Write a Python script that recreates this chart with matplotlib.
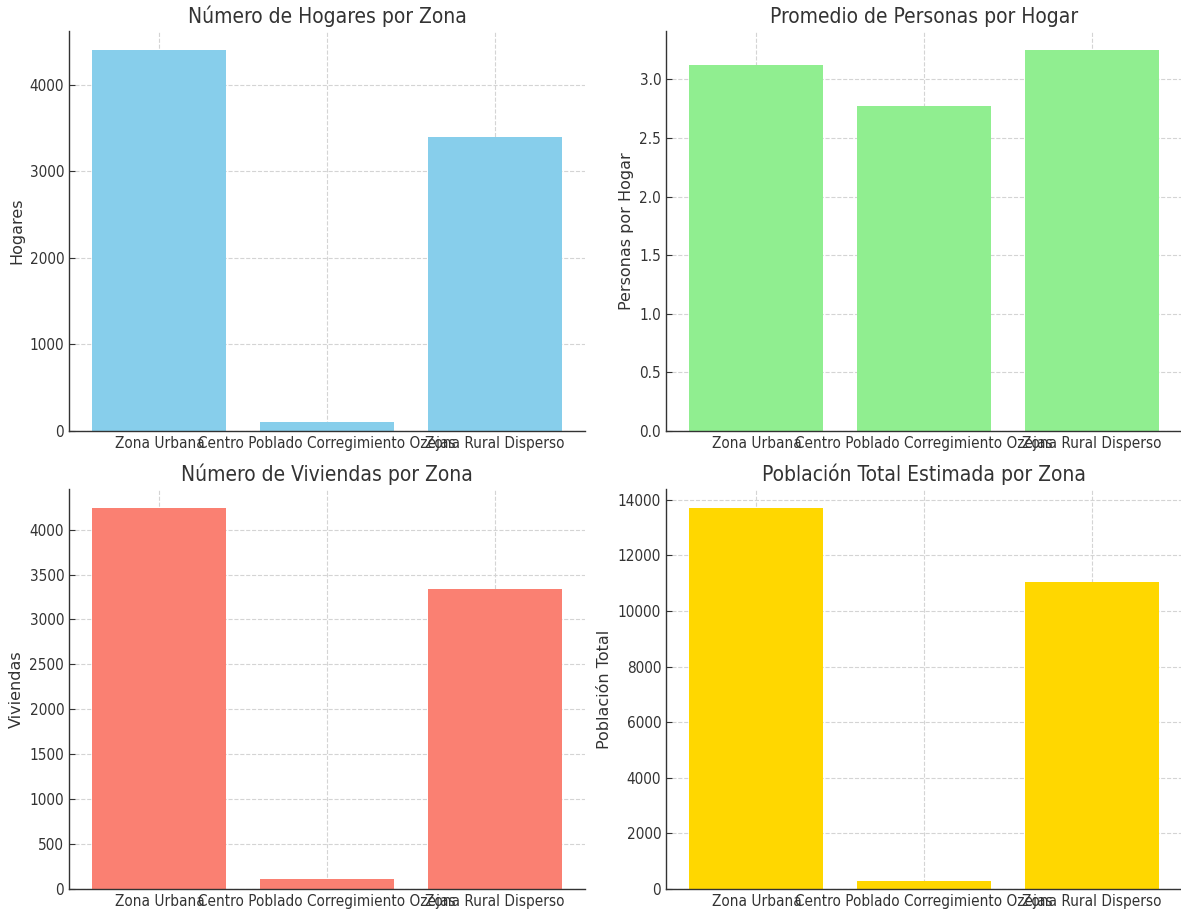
import matplotlib
matplotlib.use("Agg")
import matplotlib.pyplot as plt

zonas = ["Zona Urbana", "Centro Poblado Corregimiento Ozejas", "Zona Rural Disperso"]
hogares = [4400, 104, 3400]
personas_por_hogar = [3.12, 2.77, 3.25]
viviendas = [4240, 110, 3335]
poblacion = [13700, 288, 11050]

plt.rcParams.update({
    "font.family": "DejaVu Sans",
    "font.stretch": "condensed",
    "text.color": "#333333",
    "axes.labelcolor": "#333333",
    "xtick.color": "#333333",
    "ytick.color": "#333333",
    "axes.edgecolor": "#333333",
    "axes.linewidth": 1.0,
    "axes.spines.top": False,
    "axes.spines.right": False,
    "xtick.direction": "in",
    "ytick.direction": "in",
    "xtick.major.size": 4,
    "ytick.major.size": 4,
})

fig, axes = plt.subplots(2, 2, figsize=(11.81, 9.13), dpi=100)
fig.subplots_adjust(left=69/1181, right=1182/1181, bottom=1-889/913, top=1-31/913,
                    wspace=(666-585)/516, hspace=(489-431)/400)

panels = [
    (axes[0, 0], hogares, "skyblue", "Número de Hogares por Zona", "Hogares"),
    (axes[0, 1], personas_por_hogar, "lightgreen", "Promedio de Personas por Hogar", "Personas por Hogar"),
    (axes[1, 0], viviendas, "salmon", "Número de Viviendas por Zona", "Viviendas"),
    (axes[1, 1], poblacion, "gold", "Población Total Estimada por Zona", "Población Total"),
]

for ax, vals, color, title, ylabel in panels:
    ax.bar(zonas, vals, color=color, zorder=2)
    ax.set_title(title, fontsize=15)
    ax.set_ylabel(ylabel, fontsize=11.5, fontstretch="normal")
    ax.tick_params(labelsize=11)
    ax.grid(True, linestyle="--", color="#d4d4d4", linewidth=0.8, zorder=0)
    ax.set_axisbelow(True)

fig.savefig("out.png", dpi=100)
